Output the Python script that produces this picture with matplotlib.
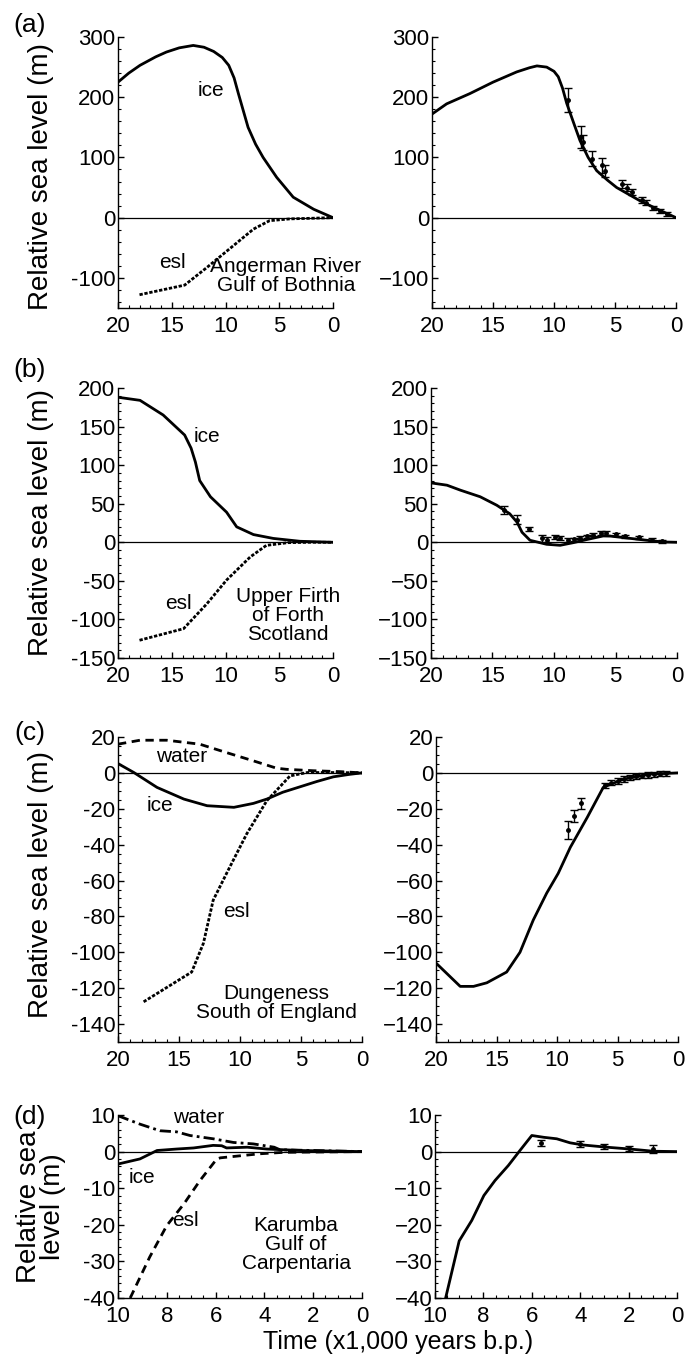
import numpy as np
import matplotlib.pyplot as plt
from matplotlib.ticker import MultipleLocator, FuncFormatter

plt.rcParams['font.family'] = ['Liberation Sans', 'DejaVu Sans']

# ---- (a) Angerman River ----
a_ice_x = [20, 19, 17.95, 16.5, 15.5, 14.3, 13.0, 12.0, 11.1, 10.3, 9.7, 9.2, 8.8, 7.9, 7.2,
           6.5, 5.24, 3.7, 1.8, 0]
a_ice_y = [225, 240, 253, 267, 275, 282, 286, 283, 276, 266, 253, 232, 206, 150, 122,
           100, 67, 34, 14, 0]
a_esl_x = [18, 13.8, 11.75, 9.3, 7.4, 5.9, 4.0, 2.0, 0]
a_esl_y = [-128, -112, -83, -47, -19, -5, -2, -1, 0]
a_mod_x = [20, 18.8, 16.9, 15.0, 13.06, 12.0, 11.4, 10.6, 10.0, 9.65, 9.3, 8.96, 8.4, 7.87,
           7.2, 6.5, 5.6, 4.86, 2.95, 1.3, 0]
a_mod_y = [172, 189, 206, 225, 242, 249, 252, 250, 243, 234, 215, 190, 158, 128, 100,
           78, 62, 50, 28, 12, 0]
a_obs_x = [8.88, 7.8, 7.6, 6.86, 6.1, 5.8, 4.45, 4.0, 3.6, 2.8, 2.5, 1.85, 1.3, 0.7]
a_obs_y = [196, 134, 125, 98, 87, 78, 56, 50, 42, 29, 25, 16, 11, 6]
a_obs_e = [20, 19, 12, 12, 12, 10, 6, 6, 5, 5, 4, 4, 3, 3]

# ---- (b) Upper Firth of Forth ----
b_ice_x = [20, 17.95, 15.8, 13.8, 13.2, 12.8, 12.4, 11.4, 9.9, 8.96, 7.4, 5.55, 3.07, 0]
b_ice_y = [188, 184, 165, 139, 122, 104, 80, 59, 39, 20, 10, 5, 1.3, 0]
b_esl_x = [18, 13.9, 11.75, 9.9, 7.7, 6.2, 4.2, 2.0, 0]
b_esl_y = [-127, -112, -80, -49, -19, -4, -0.5, 0, 0]
b_mod_x = [20, 18.7, 17.6, 16.0, 14.65, 13.6, 13.0, 12.6, 11.95, 10.6, 9.5, 8.4, 7.35,
           6.0, 5.4, 4.1, 2.46, 1.1, 0]
b_mod_y = [77, 74, 67.5, 59, 48, 37, 26, 13, 2.6, -2.6, -3.9, -0.4, 3.5, 8.2, 8, 5.6,
           2.6, 0.4, 0]
b_obs_x = [14.07, 13.0, 12.0, 11.0, 10.6, 9.9, 9.5, 8.9, 8.4, 7.9, 7.3, 6.8, 6.2, 5.8,
           5.0, 4.2, 3.1, 2.0, 1.2]
b_obs_y = [41.6, 29.5, 17, 5, 3, 7, 5.5, 3, 4, 6, 8, 10, 12, 12, 10.4, 8, 6.5, 3.5, 1.5]
b_obs_e = [5, 6, 3, 5, 4, 3, 3, 2, 2, 2, 2, 2, 2, 2, 2, 2, 2, 2, 2]

# ---- (c) Dungeness ----
c_water_x = [20, 18.2, 16.0, 13.3, 11.1, 8.9, 7.0, 6.2, 4.0, 1.8, 0]
c_water_y = [16, 18.2, 18.2, 16, 11.3, 6.7, 2.6, 2.0, 1.2, 0.7, 0]
c_ice_x = [20, 18.7, 16.8, 14.6, 12.7, 10.5, 8.9, 7.8, 6.5, 5.1, 3.7, 2.35, 1.0, 0]
c_ice_y = [5.2, 0.2, -8.1, -14.6, -18.3, -19.2, -17, -14.6, -10.8, -7.8, -4.8, -2.2, -0.8, 0]
c_esl_x = [17.9, 13.96, 13.0, 12.2, 11.1, 9.45, 7.8, 5.9, 4.5, 2.0, 0]
c_esl_y = [-127.6, -111, -95, -71, -56, -34, -15.5, -1.7, 0.2, 0.2, 0]
c_mod_x = [20, 18.0, 16.9, 15.8, 14.16, 13.06, 11.96, 10.85, 9.9, 8.9, 7.5, 6.17, 4.5, 2.3, 0]
c_mod_y = [-106, -119, -119, -117, -111, -100, -82, -67, -56, -41.5, -24.8, -8, -3.5, -0.7, 0]
c_obs_x = [9.07, 8.57, 8.04, 6.0, 5.5, 5.0, 4.5, 4.0, 3.5, 3.0, 2.5, 2.0, 1.5, 1.0]
c_obs_y = [-32, -24, -17, -7, -5.5, -4.5, -3.5, -2.5, -2, -1.5, -1.2, -0.8, -0.5, -0.3]
c_obs_e = [5, 3.5, 3, 1.5, 1.5, 1.5, 1.5, 1.5, 1.5, 1.5, 1.5, 1.5, 1.5, 1.5]

# ---- (d) Karumba ----
d_water_x = [10, 9.1, 8.28, 7.6, 7.05, 6.1, 5.27, 4.45, 3.6, 3.36, 2.0, 0]
d_water_y = [9.8, 7.5, 5.7, 5.4, 4.4, 3.5, 2.5, 2.1, 1.2, 0.5, 0.3, 0]
d_ice_x = [10, 9.1, 8.4, 7.6, 6.9, 6.1, 5.75, 5.55, 4.7, 3.9, 2.5, 0]
d_ice_y = [-3.4, -2, 0.3, 0.7, 1.0, 1.7, 1.6, 1.0, 1.2, 0.7, 0.3, 0]
d_esl_x = [9.5, 8.7, 8.0, 7.3, 6.64, 5.95, 5.8, 4.2, 3.2, 0]
d_esl_y = [-40, -28.8, -20.2, -14.3, -7.9, -2, -1.7, -0.6, -0.2, 0]
d_mod_x = [9.55, 9.0, 8.48, 7.98, 7.52, 6.97, 6.49, 6.0, 5.5, 4.97, 4.42, 3.87, 2.9, 1.94, 0.98, 0]
d_mod_y = [-39.7, -24.4, -18.8, -12, -7.9, -3.8, 0.3, 4.4, 3.9, 3.5, 2.4, 1.8, 1.2, 0.7, 0.1, 0]
d_obs_x = [5.6, 4.0, 3.0, 2.0, 1.0]
d_obs_y = [2.4, 2.0, 1.5, 0.9, 0.7]
d_obs_e = [0.8, 0.8, 0.7, 0.7, 1.2]

W, H = 692, 1361
fig = plt.figure(figsize=(W / 100, H / 100), dpi=100, facecolor='white')


def px_axes(x0, x1, ytop, ybot):
    return fig.add_axes([x0 / W, 1 - ybot / H, (x1 - x0) / W, (ybot - ytop) / H])


def style(ax, xmax, ylim, ymaj, ymin, xmaj, xmin, hyphen):
    ax.set_xlim(xmax, 0)
    ax.set_ylim(*ylim)
    for s in ['top', 'right']:
        ax.spines[s].set_visible(False)
    ax.spines['left'].set_linewidth(1.0)
    ax.spines['bottom'].set_linewidth(1.0)
    ax.axhline(0, color='black', lw=0.9, zorder=1)
    ax.xaxis.set_major_locator(MultipleLocator(xmaj))
    ax.xaxis.set_minor_locator(MultipleLocator(xmin))
    ax.yaxis.set_major_locator(MultipleLocator(ymaj))
    ax.yaxis.set_minor_locator(MultipleLocator(ymin))
    ax.tick_params(which='major', direction='in', length=4, width=1, labelsize=16)
    ax.tick_params(axis='y', which='major', pad=2)
    ax.tick_params(axis='x', which='major', pad=6)
    ax.tick_params(which='minor', direction='in', length=2, width=0.8)
    if hyphen:
        ax.yaxis.set_major_formatter(FuncFormatter(lambda v, p: '%d' % v))
    else:
        ax.yaxis.set_major_formatter(FuncFormatter(lambda v, p: ('%d' % v).replace('-', '\u2212')))
    ax.xaxis.set_major_formatter(FuncFormatter(lambda v, p: '%d' % v))


lw = 2.0
tfs = 15

# (a)
ax = px_axes(118, 333, 37, 308)
style(ax, 20, (-150, 300), 100, 20, 5, 1, True)
ax.plot(a_ice_x, a_ice_y, 'k-', lw=lw)
ax.plot(a_esl_x, a_esl_y, 'k', ls=(0, (1.2, 0.6)), lw=lw)
ax.text(11.4, 211, 'ice', fontsize=tfs, ha='center', va='center')
ax.text(14.9, -75, 'esl', fontsize=tfs, ha='center', va='center')
ax.text(4.4, -97, 'Angerman River\nGulf of Bothnia', fontsize=tfs, ha='center', va='center',
        linespacing=1.0)
ax = px_axes(432, 676, 37, 308)
style(ax, 20, (-150, 300), 100, 20, 5, 1, False)
ax.plot(a_mod_x, a_mod_y, 'k-', lw=lw)
ax.errorbar(a_obs_x, a_obs_y, yerr=a_obs_e, fmt='o', ms=2.5, color='black', capsize=3, elinewidth=1)

# (b)
ax = px_axes(118, 333, 388, 658)
style(ax, 20, (-150, 200), 50, 10, 5, 1, True)
ax.plot(b_ice_x, b_ice_y, 'k-', lw=lw)
ax.plot(b_esl_x, b_esl_y, 'k', ls=(0, (1.2, 0.6)), lw=lw)
ax.text(11.7, 137, 'ice', fontsize=tfs, ha='center', va='center')
ax.text(14.4, -79, 'esl', fontsize=tfs, ha='center', va='center')
ax.text(4.2, -95, 'Upper Firth\nof Forth\nScotland', fontsize=tfs, ha='center', va='center',
        linespacing=1.0)
ax = px_axes(431, 677, 388, 658)
style(ax, 20, (-150, 200), 50, 10, 5, 1, False)
ax.plot(b_mod_x, b_mod_y, 'k-', lw=lw)
ax.errorbar(b_obs_x, b_obs_y, yerr=b_obs_e, fmt='o', ms=2.5, color='black', capsize=3, elinewidth=1)

# (c)
ax = px_axes(118, 362, 737, 1042)
style(ax, 20, (-150, 20), 20, 5, 5, 1, True)
ax.plot(c_water_x, c_water_y, 'k', ls=(0, (3, 2)), lw=lw)
ax.plot(c_ice_x, c_ice_y, 'k-', lw=lw)
ax.plot(c_esl_x, c_esl_y, 'k', ls=(0, (1.2, 0.6)), lw=lw)
ax.text(14.8, 9.4, 'water', fontsize=tfs, ha='center', va='center')
ax.text(16.6, -18.3, 'ice', fontsize=tfs, ha='center', va='center')
ax.text(10.3, -77, 'esl', fontsize=tfs, ha='center', va='center')
ax.text(7.05, -128, 'Dungeness\nSouth of England', fontsize=tfs, ha='center', va='center',
        linespacing=1.0)
ax = px_axes(436, 678, 737, 1042)
style(ax, 20, (-150, 20), 20, 5, 5, 1, False)
ax.plot(c_mod_x, c_mod_y, 'k-', lw=lw)
ax.errorbar(c_obs_x, c_obs_y, yerr=c_obs_e, fmt='o', ms=2.5, color='black', capsize=3, elinewidth=1)

# (d)
ax = px_axes(118, 362, 1115, 1298)
style(ax, 10, (-40, 10), 10, 2, 2, 0.5, True)
ax.plot(d_water_x, d_water_y, 'k', ls=(0, (4, 1.5, 1, 1.5)), lw=lw)
ax.plot(d_ice_x, d_ice_y, 'k-', lw=lw)
ax.plot(d_esl_x, d_esl_y, 'k', ls=(0, (3, 2)), lw=lw)
ax.text(6.7, 9.2, 'water', fontsize=tfs, ha='center', va='center')
ax.text(9.03, -7, 'ice', fontsize=tfs, ha='center', va='center')
ax.text(7.25, -18.8, 'esl', fontsize=tfs, ha='center', va='center')
ax.text(2.7, -25.3, 'Karumba\nGulf of\nCarpentaria', fontsize=tfs, ha='center', va='center',
        linespacing=1.0)
ax = px_axes(435, 677, 1115, 1298)
style(ax, 10, (-40, 10), 10, 2, 2, 0.5, False)
ax.plot(d_mod_x, d_mod_y, 'k-', lw=lw)
ax.errorbar(d_obs_x, d_obs_y, yerr=d_obs_e, fmt='o', ms=2.5, color='black', capsize=3, elinewidth=1)

# labels
for lab, yc in [('(a)', 25), ('(b)', 370), ('(c)', 733), ('(d)', 1117)]:
    fig.text(30 / W, 1 - yc / H, lab, fontsize=19, ha='center', va='center')
for yc in [177, 523, 885]:
    fig.text(41 / W, 1 - yc / H, 'Relative sea level (m)', fontsize=20, rotation=90,
             ha='center', va='center')
fig.text(41 / W, 1 - 1207 / H, 'Relative sea\nlevel (m)', fontsize=20, rotation=90,
         ha='center', va='center', linespacing=0.95)
fig.text(398 / W, 1 - 1342 / H, 'Time (x1,000 years b.p.)', fontsize=18, ha='center', va='center')

fig.savefig('out.png', dpi=100, facecolor='white')
